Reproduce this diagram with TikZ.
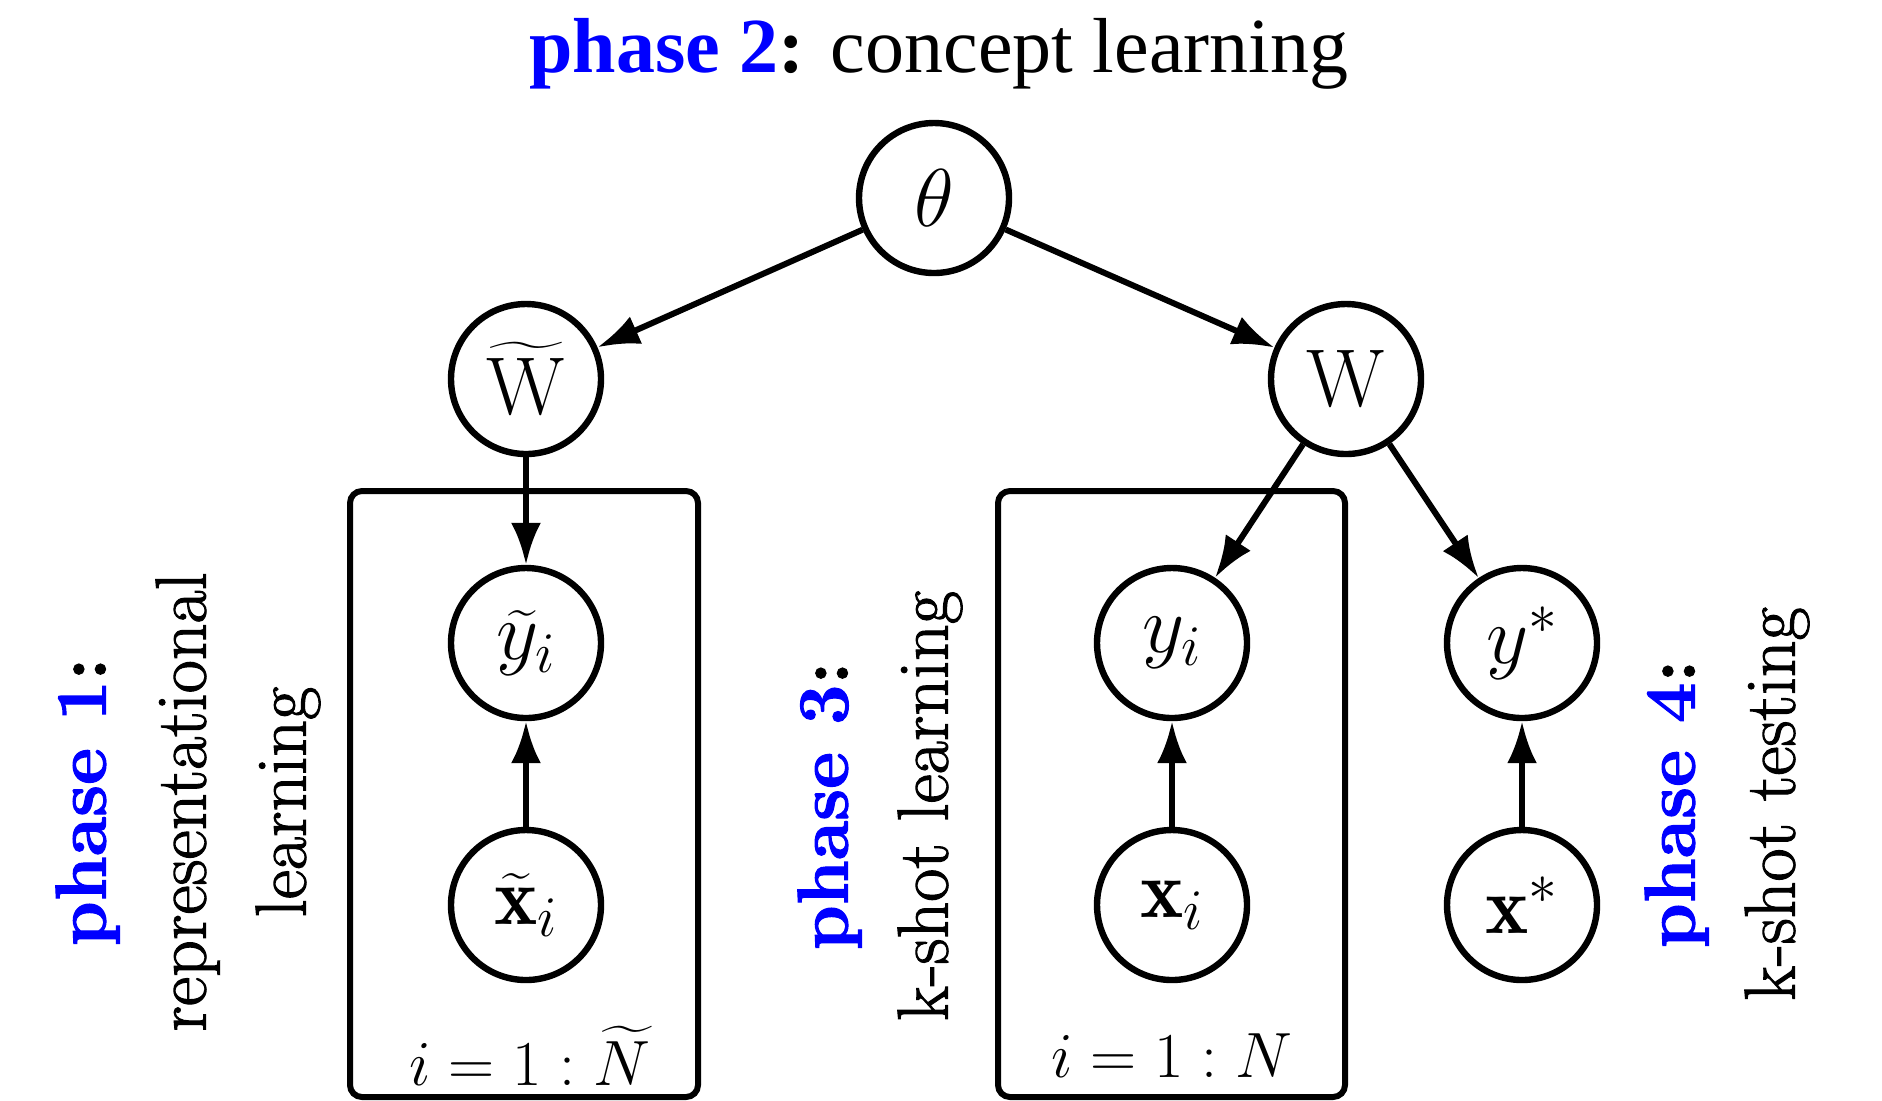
\RequirePackage{fix-cm}
\documentclass[tikz,border=0pt]{standalone}
\usepackage{amsmath}
\usepackage{fontspec}
\newfontfamily\timesfont{Liberation Serif}
\newfontfamily\labelfont{Latin Modern Roman}[FakeBold=1.5]
\usetikzlibrary{arrows.meta}
\begin{document}
\begin{tikzpicture}[x=0.5pt,y=-0.5pt,
           node_style/.style={circle,draw=black,line width=3.2pt,minimum size=75pt,inner sep=0pt,font=\fontsize{41}{49}\selectfont},
           edge_style/.style={draw=black,line width=3pt,-{Latex[length=21pt,width=15pt]}},
           plate_style/.style={draw=black,line width=3pt,rounded corners=6pt},
           label_style/.style={font=\fontsize{32}{38}\selectfont},
           phase_style/.style={rotate=90,align=center,font=\labelfont\fontsize{36}{50}\selectfont}]
            \useasboundingbox (0,0) rectangle (1882,1100);
            \node[anchor=base,font=\timesfont\fontsize{39}{47}\selectfont] (title) at (939,72) {\textcolor{blue}{\textbf{phase 2}}\textbf{:} concept learning};
            \node[node_style] (theta) at (934,198)  {$\theta$};
            \node[node_style] (wt) at (526,379)  {$\widetilde{\mathrm{W}}$};
            \node[node_style] (w) at (1346,379)  {$\mathrm{W}$};
            \node[node_style] (yt) at (526,643)  {$\widetilde{y}_i$};
            \node[node_style] (xt) at (526,905)  {$\widetilde{\mathbf{x}}_i$};
            \node[node_style] (y) at (1172,643)  {$y_i$};
            \node[node_style] (x) at (1172,905)  {$\mathbf{x}_i$};
            \node[node_style] (ys) at (1522,643)  {$y^*$};
            \node[node_style] (xs) at (1522,905)  {$\mathbf{x}^*$};
            % plates
            \draw[plate_style] (350,491) rectangle (698,1097);
            \draw[plate_style] (998,491) rectangle (1345,1097);
            \node[label_style] (plate1) at (530,1056) {$i=1:\widetilde{N}$};
            \node[label_style] (plate2) at (1172,1056) {$i=1:N$};
            % phases
            \node[phase_style] (p1) at (188,802) {\textcolor{blue}{\textbf{phase 1}}\textbf{:}\\ representational\\ learning};
            \node[phase_style] (p3) at (880,806) {\textcolor{blue}{\textbf{phase 3}}\textbf{:}\\ k-shot learning};
            \node[phase_style] (p4) at (1727,804) {\textcolor{blue}{\textbf{phase 4}}\textbf{:}\\ k-shot testing};
            \draw[edge_style]  (theta) edge (wt);
            \draw[edge_style]  (theta) edge (w);
            \draw[edge_style]  (wt) edge (yt);
            \draw[edge_style]  (w) edge (y);
            \draw[edge_style]  (w) edge (ys);
            \draw[edge_style]  (xt) edge (yt);
            \draw[edge_style]  (x) edge (y);
            \draw[edge_style]  (xs) edge (ys);
        \end{tikzpicture}
\end{document}
